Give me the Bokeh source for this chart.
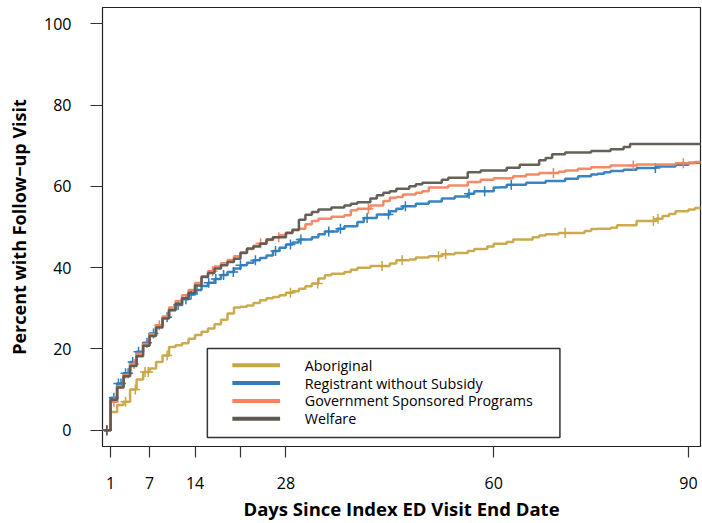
import numpy as np
from bokeh.plotting import figure
from bokeh.models import Range1d, FixedTicker, Title
from bokeh.core.properties import value
from bokeh.embed import file_html
from bokeh.resources import INLINE

# Days since index ED visit end date (daily steps), follow-up horizon
days = list(range(0, 92))
horizon = 92

# Cumulative percent with a follow-up visit, by group
aboriginal = [
    0, 4.5, 6.2, 7.0, 10.0, 12.5, 14.3, 15.2, 16.8, 18.4,
    20.5, 20.9, 21.4, 22.5, 23.4, 24.2, 25.0, 26.1, 27.2, 28.7,
    30.2, 30.4, 30.7, 31.3, 32.0, 32.5, 32.8, 33.2, 33.8, 34.2,
    34.8, 35.4, 36.1, 37.3, 38.1, 38.5, 38.5, 38.9, 39.5, 40.0,
    40.0, 40.4, 40.4, 40.4, 41.0, 41.8, 41.8, 42.0, 42.5, 42.5,
    42.8, 42.8, 43.3, 43.3, 43.6, 43.6, 44.1, 44.6, 44.6, 45.2,
    45.9, 45.9, 46.3, 46.9, 46.9, 46.9, 47.5, 47.9, 48.2, 48.2,
    48.5, 48.5, 48.5, 48.5, 49.0, 49.5, 49.6, 49.6, 49.8, 50.4,
    50.4, 50.4, 51.5, 51.5, 51.5, 52.0, 52.7, 53.2, 53.9, 53.9,
    54.3, 54.7,
]
registrant = [
    0, 8.0, 11.5, 14.0, 16.8, 19.3, 21.5, 23.8, 25.8, 27.8,
    29.5, 30.8, 32.2, 33.4, 34.5, 35.5, 36.3, 37.2, 38.2, 38.9,
    39.8, 40.6, 41.2, 41.8, 42.4, 43.0, 44.1, 44.9, 45.7, 46.2,
    46.9, 46.9, 47.5, 48.2, 48.9, 48.9, 49.6, 50.2, 50.2, 51.2,
    52.2, 52.2, 53.1, 53.1, 53.9, 54.5, 55.1, 55.1, 55.7, 55.7,
    56.3, 56.3, 57.0, 57.0, 57.5, 57.5, 58.2, 58.8, 58.8, 58.8,
    59.7, 59.8, 60.4, 60.4, 60.4, 60.9, 60.9, 60.9, 61.3, 61.3,
    61.3, 61.9, 61.9, 62.5, 62.5, 62.9, 63.1, 63.5, 63.8, 63.8,
    64.1, 64.1, 64.5, 64.5, 64.5, 64.9, 64.9, 64.9, 65.3, 65.3,
    65.8, 65.8,
]
government = [
    0, 7.0, 10.8, 13.6, 16.3, 18.8, 21.2, 23.6, 25.8, 28.0,
    30.2, 31.8, 33.2, 34.5, 36.2, 37.9, 39.1, 40.3, 41.1, 41.9,
    42.8, 43.8, 44.6, 45.4, 46.0, 46.8, 47.5, 48.0, 48.6, 49.2,
    49.6, 50.7, 51.5, 52.0, 52.0, 52.5, 52.5, 52.9, 54.1, 54.5,
    54.5, 55.3, 55.3, 56.4, 57.2, 57.4, 58.0, 58.0, 58.4, 58.8,
    59.7, 59.7, 59.7, 60.2, 60.2, 60.2, 61.1, 61.1, 61.6, 61.6,
    62.0, 62.0, 62.0, 62.5, 62.5, 62.9, 62.9, 63.3, 63.3, 63.3,
    63.6, 63.9, 63.9, 64.3, 64.3, 64.7, 64.7, 64.7, 65.1, 65.1,
    65.1, 65.1, 65.4, 65.4, 65.4, 65.4, 65.4, 65.4, 65.7, 65.7,
    65.7, 66.0,
]
welfare = [
    0, 7.5, 10.5, 13.3, 15.8, 18.2, 20.8, 23.2, 25.3, 27.5,
    29.6, 31.1, 32.5, 33.8, 35.6, 37.7, 38.7, 39.8, 40.6, 41.4,
    42.2, 43.6, 44.7, 45.2, 45.9, 46.9, 47.5, 47.5, 48.5, 49.3,
    51.8, 53.0, 53.7, 54.3, 54.3, 54.8, 54.8, 55.3, 55.7, 56.1,
    56.1, 57.0, 57.8, 58.4, 58.8, 59.4, 59.4, 60.0, 60.5, 60.9,
    60.9, 60.9, 61.6, 62.1, 62.1, 62.1, 63.5, 63.5, 63.9, 63.9,
    63.9, 63.9, 64.6, 64.6, 65.3, 65.3, 65.3, 66.4, 67.0, 67.9,
    67.9, 68.3, 68.3, 68.3, 68.3, 68.7, 68.7, 68.7, 69.1, 69.1,
    69.7, 70.4, 70.4, 70.4, 70.4, 70.4, 70.4, 70.4, 70.4, 70.4,
    70.4, 70.4,
]

# Censoring times (drawn as "+" on each curve)
censor_aboriginal = [0.4, 3.3, 4.8, 6.3, 6.8, 9.7, 28.7, 32.9, 42.8, 45.9, 51.5, 52.6, 71.0, 84.6, 85.3]
censor_registrant = [0.4, 1.5, 2.2, 2.6, 3.3, 3.7, 4.4, 5.3, 6.6, 7.6, 9.7, 11.4, 12.6, 13.4, 14.3,
                     16.1, 17.2, 18.4, 19.9, 21.0, 23.3, 26.4, 28.7, 30.3, 34.6, 36.4, 40.5,
                     43.8, 46.4, 56.2, 58.6, 62.7, 84.9]
censor_government = [0.4, 1.5, 4.6, 8.5, 16.7, 24.1, 26.9, 40.7, 69.2, 81.5, 89.2]
censor_welfare = [0.4]

group_names = ["Aboriginal", "Registrant without Subsidy",
               "Government Sponsored Programs", "Welfare"]
group_colors = ["#C8A646", "#2E7DBE", "#F4845F", "#5D5850"]

x_ticks = [1, 7, 14, 21, 28, 60, 90]
y_ticks = [0, 20, 40, 60, 80, 100]

FONT = "Open Sans"

p = figure(width=702, height=523,
           x_range=Range1d(-0.25, 91.85), y_range=Range1d(-4, 104),
           output_backend="svg", toolbar_location=None,
           min_border_left=102, min_border_right=2,
           min_border_top=7, min_border_bottom=77)
p.grid.visible = False
p.outline_line_color = "#222222"
p.outline_line_width = 1.2

for ax in (p.xaxis[0], p.yaxis[0]):
    ax.axis_line_color = None
    ax.minor_tick_line_color = None
    ax.major_tick_in = 0
    ax.major_tick_line_color = "#333333"
    ax.major_tick_line_width = 1.2
    ax.major_label_text_font = FONT
    ax.major_label_text_font_size = "16px"
    ax.major_label_text_color = "black"

p.xaxis.ticker = FixedTicker(ticks=x_ticks)
p.xaxis.major_label_overrides = {21: ""}
p.xaxis.major_tick_out = 11
p.xaxis.major_label_standoff = 19

p.yaxis.ticker = FixedTicker(ticks=y_ticks)
p.yaxis.major_tick_out = 12
p.yaxis.major_label_standoff = 19
p.yaxis.axis_label = "Percent with Follow\u2212up Visit"
p.yaxis.axis_label_text_font = FONT
p.yaxis.axis_label_text_font_style = "bold"
p.yaxis.axis_label_text_font_size = "18px"
p.yaxis.axis_label_text_color = "black"
p.yaxis.axis_label_standoff = 10

# X axis title, centred under the plot frame
p.add_layout(Title(text="Days Since Index ED Visit End Date", align="center",
                   standoff=5, offset=0,
                   text_font=FONT, text_font_style="bold", text_font_size="18.5px",
                   text_color="black"), "below")


def step_value(series, t):
    idx = np.searchsorted(days, t, side="right") - 1
    return series[idx]


series_list = [aboriginal, registrant, government, welfare]
censor_list = [censor_aboriginal, censor_registrant, censor_government, censor_welfare]

for vals, cens, color in zip(series_list, censor_list, group_colors):
    xs = days + [horizon]
    ys = vals + [vals[-1]]
    p.step(x=xs, y=ys, mode="after", line_color=color, line_width=2.5, line_alpha=0.95)
    cy = [step_value(vals, t) for t in cens]
    p.scatter(x=cens, y=cy, marker="cross", size=10, line_color=color, line_width=1.5)

# Legend: white framed box with line samples and labels, placed in data space
p.quad(left=[15.9], right=[70.2], bottom=[-1.8], top=[20.1],
       fill_color="white", line_color="#333333", line_width=1.5)

legend_x0, legend_x1, legend_text_x = 19.75, 27.1, 30.9
legend_rows = [16.0, 11.6, 7.2, 2.8]
p.segment(x0=[legend_x0] * 4, x1=[legend_x1] * 4, y0=legend_rows, y1=legend_rows,
          line_color=group_colors, line_width=4)
p.text(x=[legend_text_x] * 4, y=legend_rows, text=group_names,
       text_font=value(FONT), text_font_size="14.3px", text_color="black",
       text_baseline="middle", text_align="left")

open("out.html", "w").write(file_html(p, INLINE))
